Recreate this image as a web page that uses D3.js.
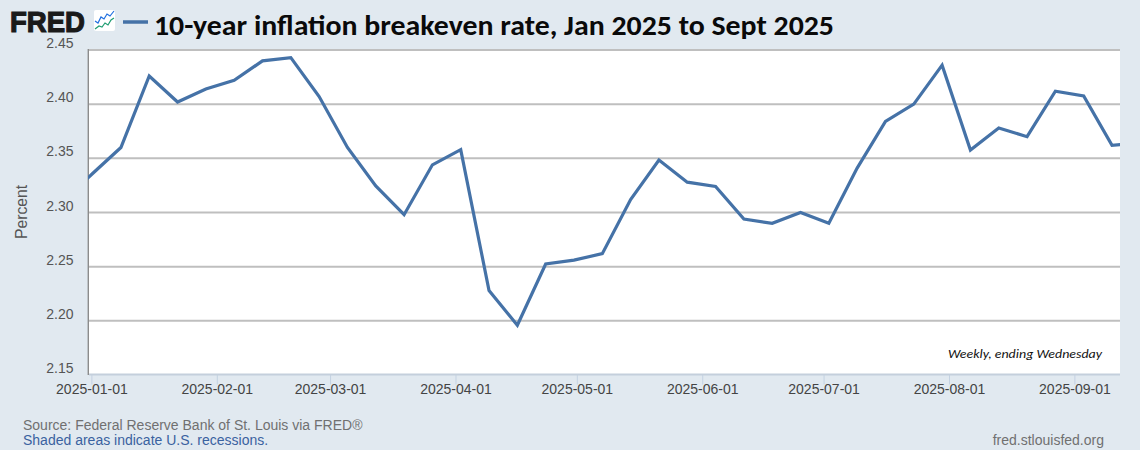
<!DOCTYPE html>
<html><head><meta charset="utf-8">
<style>html,body{margin:0;padding:0;background:#e1e9f0}svg{display:block}</style>
<script src="https://cdn.jsdelivr.net/npm/d3@7"></script>
</head><body><svg id="c" width="1140" height="450"></svg>
<script>
const dates = ["2024-12-25","2025-01-01","2025-01-08","2025-01-15","2025-01-22","2025-01-29","2025-02-05","2025-02-12","2025-02-19","2025-02-26","2025-03-05","2025-03-12","2025-03-19","2025-03-26","2025-04-02","2025-04-09","2025-04-16","2025-04-23","2025-04-30","2025-05-07","2025-05-14","2025-05-21","2025-05-28","2025-06-04","2025-06-11","2025-06-18","2025-06-25","2025-07-02","2025-07-09","2025-07-16","2025-07-23","2025-07-30","2025-08-06","2025-08-13","2025-08-20","2025-08-27","2025-09-03","2025-09-10","2025-09-17"];
const values = [2.311,2.336,2.360,2.426,2.402,2.414,2.422,2.440,2.443,2.407,2.360,2.3245,2.298,2.344,2.358,2.228,2.196,2.2525,2.256,2.262,2.312,2.3485,2.328,2.324,2.294,2.290,2.300,2.290,2.341,2.384,2.400,2.436,2.3577,2.378,2.370,2.412,2.4075,2.362,2.364];
const yTicks = [2.15,2.20,2.25,2.30,2.35,2.40,2.45];
const xTicks = ["2025-01-01","2025-02-01","2025-03-01","2025-04-01","2025-05-01","2025-06-01","2025-07-01","2025-08-01","2025-09-01"];
const title = "10-year inflation breakeven rate, Jan 2025 to Sept 2025";
const note = "Weekly, ending Wednesday";
const yLabel = "Percent";
const source = "Source: Federal Reserve Bank of St. Louis via FRED®";
const shaded = "Shaded areas indicate U.S. recessions.";
const site = "fred.stlouisfed.org";
const iconBlue = [[0,10],[3,12],[6,6],[9,8],[12,3],[15,5],[19,0]];
const iconGreen = [[0,18],[4,15],[7,16],[10,12],[13,14],[16,9],[19,7]];

const P = {l:89, r:1120, t:50, b:375};
const parse = d3.utcParse("%Y-%m-%d");
const x = d3.scaleUtc().domain([parse("2025-01-01"), parse("2025-09-01")]).range([91.4,1074.4]);
const y = d3.scaleLinear().domain([2.15,2.45]).range([P.b,P.t]);
const svg = d3.select("#c");
const font = "'Liberation Sans',Arial,sans-serif";

svg.append("rect").attr("width",1140).attr("height",450).attr("fill","#e1e9f0");
svg.append("rect").attr("x",P.l).attr("y",P.t).attr("width",P.r-P.l).attr("height",P.b-P.t).attr("fill","#fff");
svg.append("defs").append("clipPath").attr("id","plot").append("rect")
  .attr("x",P.l-1).attr("y",P.t).attr("width",P.r-P.l+1).attr("height",P.b-P.t);

// grid
svg.append("g").selectAll("line").data(yTicks.slice(1)).join("line")
  .attr("x1",P.l).attr("x2",P.r).attr("y1",d=>y(d)).attr("y2",d=>y(d))
  .attr("stroke","#bfbfbf").attr("stroke-width",2);

// y axis labels
svg.append("g").selectAll("text").data(yTicks).join("text")
  .attr("x",73.5).attr("y",d=>y(d)-2).attr("text-anchor","end")
  .attr("font-family",font).attr("font-size",14).attr("fill","#555").text(d=>d.toFixed(2));
svg.append("line").attr("x1",88.3).attr("x2",88.3).attr("y1",P.t-1).attr("y2",P.b)
  .attr("stroke","#8c8c8c").attr("stroke-width",1.4);

// x axis
const xAxis = d3.axisBottom(x).tickValues(xTicks.map(parse)).tickFormat(d3.utcFormat("%Y-%m-%d")).tickSize(10).tickPadding(2);
const gx = svg.append("g").attr("transform",`translate(0,${P.b-0.5})`).call(xAxis);
gx.select(".domain").remove();
gx.selectAll("line").attr("stroke","#c4d2e2").attr("stroke-width",1);
gx.selectAll("text").attr("font-family",font).attr("font-size",14).attr("fill","#444").attr("dy","0.72em").attr("y",9.5);
svg.append("line").attr("x1",P.l).attr("x2",P.r).attr("y1",P.b-0.5).attr("y2",P.b-0.5).attr("stroke","#c4cfdc").attr("stroke-width",1.8);

// series
const line = d3.line().x((d,i)=>x(parse(dates[i]))+1.2).y(d=>y(d));
svg.append("path").datum(values).attr("d",line).attr("clip-path","url(#plot)")
  .attr("fill","none").attr("stroke","#4572a7").attr("stroke-width",3.2).attr("stroke-linejoin","miter");

// y title
svg.append("text").attr("transform","translate(26.5,212) rotate(-90)").attr("text-anchor","middle")
  .attr("font-family",font).attr("font-size",15.7).attr("fill","#555").text(yLabel);

// logo
svg.append("text").attr("x",10).attr("y",32).attr("font-family",font).attr("font-weight",700)
  .attr("font-size",30).attr("stroke","#1a1a1a").attr("stroke-width",1.2).attr("fill","#1a1a1a")
  .attr("textLength",75).attr("lengthAdjust","spacingAndGlyphs").text("FRED");
const icon = svg.append("g").attr("transform","translate(94,10)");
icon.append("rect").attr("width",21).attr("height",21).attr("rx",2).attr("fill","#fff");
const il = d3.line();
icon.append("path").attr("d",il(iconBlue)).attr("transform","translate(1,1)").attr("fill","none").attr("stroke","#1f6fe0").attr("stroke-width",1.2);
icon.append("path").attr("d",il(iconGreen)).attr("transform","translate(1,1)").attr("fill","none").attr("stroke","#1f9d72").attr("stroke-width",1.2);

// legend key + title
svg.append("line").attr("x1",123).attr("x2",148).attr("y1",22).attr("y2",22).attr("stroke","#4572a7").attr("stroke-width",3.5);
svg.append("text").attr("x",154).attr("y",35).attr("font-family","Carlito,Lato,sans-serif").attr("font-weight",700)
  .attr("font-size",29).attr("fill","#0a0a0a").attr("textLength",680).attr("lengthAdjust","spacingAndGlyphs").text(title);

// note
svg.append("text").attr("x",948).attr("y",358).attr("font-family","Carlito,Lato,sans-serif").attr("font-style","italic")
  .attr("font-size",13).attr("fill","#111").attr("textLength",154).attr("lengthAdjust","spacingAndGlyphs").text(note);

// footer
svg.append("text").attr("x",23).attr("y",430).attr("font-family",font).attr("font-size",14).attr("fill","#707070").text(source);
svg.append("text").attr("x",23).attr("y",445).attr("font-family",font).attr("font-size",14).attr("fill","#3a62a0").text(shaded);
svg.append("text").attr("x",1104).attr("y",445).attr("text-anchor","end").attr("font-family",font).attr("font-size",14).attr("fill","#707070").text(site);
</script></body></html>
